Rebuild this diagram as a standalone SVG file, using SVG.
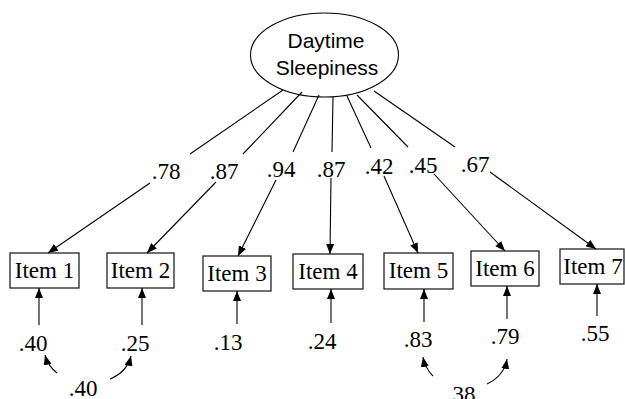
<svg xmlns="http://www.w3.org/2000/svg" width="625" height="399" viewBox="0 0 625 399">
  <defs>
    <marker id="arrow" viewBox="0 0 10 8" refX="10" refY="4" markerWidth="10" markerHeight="8" markerUnits="userSpaceOnUse" orient="auto">
      <path d="M0,0 L10,4 L0,8 Z" fill="#000"/>
    </marker>
    <style>
      .box { fill: #fff; stroke: #222; stroke-width: 1.3; }
      .lbl { font-family: "Liberation Serif", "Times New Roman", serif; font-size: 23px; fill: #000; text-anchor: middle; }
      .fac { font-family: "Liberation Sans", Arial, sans-serif; font-size: 21px; fill: #000; text-anchor: middle; }
      .ln { fill: none; stroke: #000; stroke-width: 1.1; }
      .arr { fill: none; stroke: #000; stroke-width: 1.1; marker-end: url(#arrow); }
    </style>
  </defs>

  <!-- latent factor -->
  <g id="daytime-sleepiness">
    <ellipse cx="324.5" cy="55" rx="74" ry="42" fill="#fff" stroke="#000" stroke-width="1.1"/>
    <text class="fac" x="326" y="48">Daytime</text>
    <text class="fac" x="327" y="75">Sleepiness</text>
  </g>

  <!-- observed items -->
  <g id="item1"><rect class="box" x="10" y="253" width="69" height="35"/><text class="lbl" x="44.5" y="278">Item 1</text></g>
  <g id="item2"><rect class="box" x="107" y="253" width="67" height="35"/><text class="lbl" x="140.5" y="278">Item 2</text></g>
  <g id="item3"><rect class="box" x="203" y="256" width="68" height="35"/><text class="lbl" x="237" y="281">Item 3</text></g>
  <g id="item4"><rect class="box" x="293" y="254" width="70" height="35"/><text class="lbl" x="328" y="279">Item 4</text></g>
  <g id="item5"><rect class="box" x="384" y="253" width="69" height="36"/><text class="lbl" x="418.5" y="278">Item 5</text></g>
  <g id="item6"><rect class="box" x="471" y="251" width="68" height="35"/><text class="lbl" x="505" y="276">Item 6</text></g>
  <g id="item7"><rect class="box" x="560" y="249" width="64" height="35"/><text class="lbl" x="593" y="274">Item 7</text></g>

  <!-- connectors: factor loadings, residuals, correlated errors -->
  <g id="connectors">
    <path class="ln" d="M283,90 L190,154"/>
    <path class="arr" d="M150,183 L48,253"/>
    <path class="ln" d="M302,92 L243,154"/>
    <path class="arr" d="M216,182 L147,253"/>
    <path class="ln" d="M319,95 L293,152"/>
    <path class="arr" d="M276,180 L238,256"/>
    <path class="ln" d="M333,97 L332,152"/>
    <path class="arr" d="M331,178 L330,254"/>
    <path class="ln" d="M347,96 L371,148"/>
    <path class="arr" d="M384,176 L418,253"/>
    <path class="ln" d="M357,95 L408,147"/>
    <path class="arr" d="M434,174 L505,251"/>
    <path class="ln" d="M374,91 L455,147"/>
    <path class="arr" d="M490,172 L596,249"/>

    <path class="arr" d="M39,325 L39,288"/>
    <path class="arr" d="M142,325 L142,288"/>
    <path class="arr" d="M237,324 L237,291"/>
    <path class="arr" d="M331,323 L331,289"/>
    <path class="arr" d="M424,322 L424,289"/>
    <path class="arr" d="M507,319 L507,286"/>
    <path class="arr" d="M597,316 L597,284"/>

    <path class="arr" d="M57,373 Q48,366 45,355"/>
    <path class="arr" d="M110,379 Q127,372 131,356"/>
    <path class="arr" d="M433,376 Q425,368 423,357"/>
    <path class="arr" d="M487,384 Q504,376 507,359"/>
  </g>

  <!-- loading values -->
  <g id="loadings">
    <text class="lbl" x="166" y="179">.78</text>
    <text class="lbl" x="224" y="179">.87</text>
    <text class="lbl" x="281" y="177">.94</text>
    <text class="lbl" x="331" y="177">.87</text>
    <text class="lbl" x="379" y="174">.42</text>
    <text class="lbl" x="423" y="173">.45</text>
    <text class="lbl" x="475" y="172">.67</text>
  </g>

  <!-- residual values and error correlations -->
  <g id="residuals">
    <text class="lbl" x="33" y="351">.40</text>
    <text class="lbl" x="135" y="351">.25</text>
    <text class="lbl" x="228" y="350">.13</text>
    <text class="lbl" x="322" y="349">.24</text>
    <text class="lbl" x="418" y="347">.83</text>
    <text class="lbl" x="505" y="344">.79</text>
    <text class="lbl" x="595" y="341">.55</text>
    <text class="lbl" x="83" y="396">.40</text>
    <text class="lbl" x="461" y="402">.38</text>
  </g>
</svg>
